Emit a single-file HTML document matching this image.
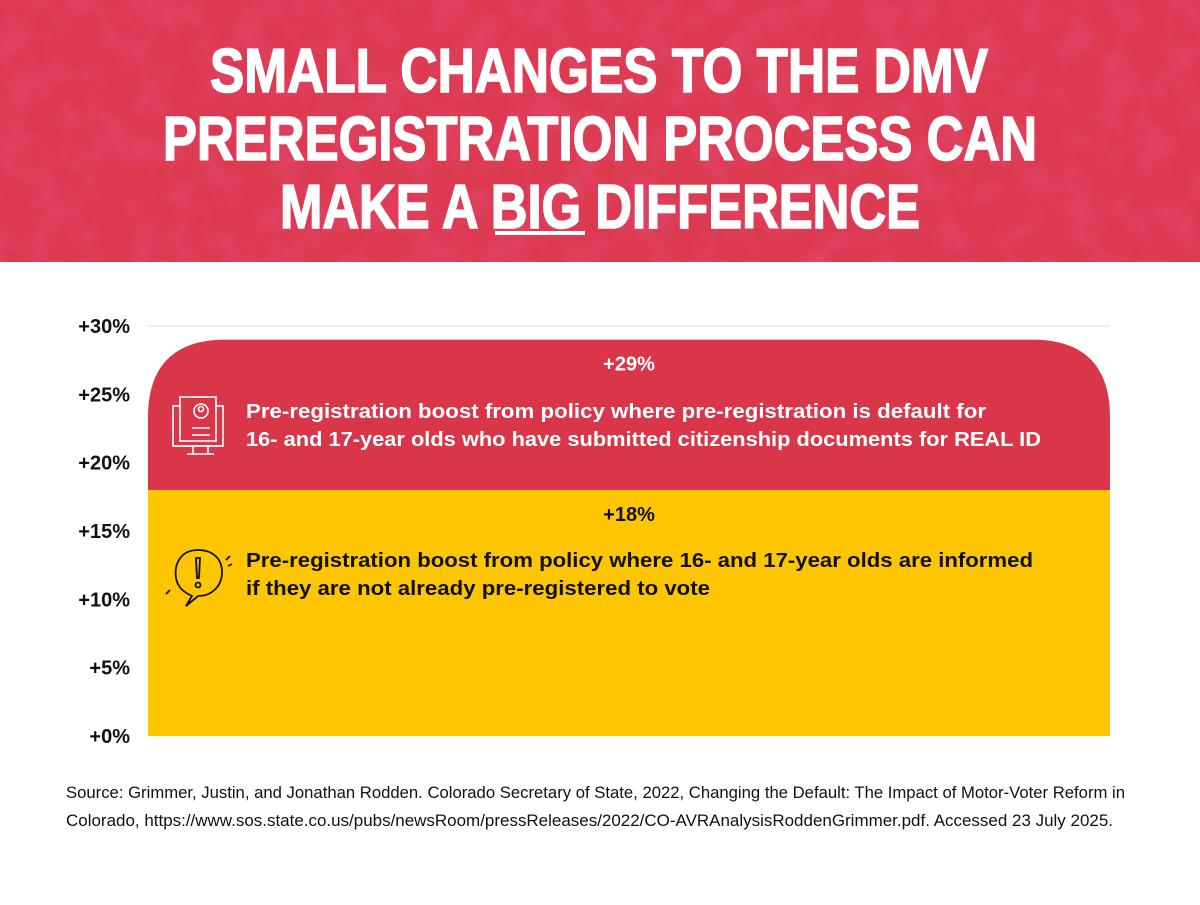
<!DOCTYPE html>
<html><head><meta charset="utf-8"><style>
body{margin:0;width:1200px;height:905px;background:#fff;overflow:hidden;font-family:"Liberation Sans",sans-serif}
svg{display:block}
</style></head><body>
<svg width="1200" height="905" viewBox="0 0 1200 905">
<defs>
<filter id="grain" x="0" y="0" width="100%" height="100%">
<feTurbulence type="fractalNoise" baseFrequency="0.03" numOctaves="4" seed="3" result="n"/>
<feColorMatrix type="matrix" values="0 0 0 0 0.78  0 0 0 0 0.08  0 0 0 0 0.2  0 0 0 1.4 -0.55" in="n" result="c"/>
<feComposite in="c" in2="SourceGraphic" operator="in"/>
</filter>
</defs>
<g>
<rect x="0" y="0" width="1200" height="262" fill="#dc3a50"/>
<rect x="0" y="0" width="1200" height="262" fill="#dc3a50" filter="url(#grain)" opacity="0.7"/>
<g font-family="'Liberation Sans Narrow','Liberation Sans',sans-serif" font-weight="bold" font-size="62" fill="#fff" stroke="#fff" stroke-width="1.6">
<text x="210" y="92" textLength="778" lengthAdjust="spacingAndGlyphs">SMALL CHANGES TO THE DMV</text>
<text x="163" y="160" textLength="874" lengthAdjust="spacingAndGlyphs">PREREGISTRATION PROCESS CAN</text>
<text x="280" y="228" textLength="640" lengthAdjust="spacingAndGlyphs">MAKE A BIG DIFFERENCE</text>
<rect x="495" y="231" width="90" height="4" fill="#fff" stroke="none"/>
</g>
</g>
<g id="plot"></g>
<g font-family="'Liberation Sans Narrow','Liberation Sans',sans-serif" font-size="17" fill="#111">
<text x="66" y="798" textLength="1059" lengthAdjust="spacingAndGlyphs">Source: Grimmer, Justin, and Jonathan Rodden. Colorado Secretary of State, 2022, Changing the Default: The Impact of Motor-Voter Reform in</text>
<text x="66" y="826" textLength="1047" lengthAdjust="spacingAndGlyphs">Colorado, https://www.sos.state.co.us/pubs/newsRoom/pressReleases/2022/CO-AVRAnalysisRoddenGrimmer.pdf. Accessed 23 July 2025.</text>
</g>
</svg>
<script>
const tickValues=[0,5,10,15,20,25,30];
const tickLabels=["+0%","+5%","+10%","+15%","+20%","+25%","+30%"];
const segStarts=[0,18];
const segEnds=[18,29];
const segLabels=["+18%","+29%"];
const segColors=["#fec600","#da3649"];
const y0=736,y1=326,xL=148,xR=1110;
const ys=v=>y0-(v/30)*(y0-y1);
const NS="http://www.w3.org/2000/svg";
const g=document.getElementById('plot');
function mk(t,a){const e=document.createElementNS(NS,t);for(const k in a)e.setAttribute(k,a[k]);g.appendChild(e);return e;}
const grid=mk('line',{x1:xL,x2:xR,y1:ys(30),y2:ys(30),stroke:'#ddd','stroke-width':1});


tickValues.forEach((v,i)=>{
 const t=mk('text',{x:130,y:ys(v)+7,'text-anchor':'end','font-size':20,'font-weight':'bold',fill:'#111'});
 t.textContent=tickLabels[i];
 
 
});
{const a=ys(segStarts[0]),b=ys(segEnds[0]);
 const r=mk('rect',{x:xL,y:b,width:xR-xL,height:a-b,fill:segColors[0]});
 
 }
{const a=ys(segStarts[1]),b=ys(segEnds[1]),R=78;
 const d=`M${xL},${a} L${xL},${b+R} Q${xL},${b} ${xL+R},${b} L${xR-R},${b} Q${xR},${b} ${xR},${b+R} L${xR},${a} Z`;
 const p=mk('path',{d:d,fill:segColors[1]});
 
 }
const cx=(xL+xR)/2;
[0,1].forEach(i=>{
 const t=mk('text',{x:cx,y:ys(segEnds[i])+31,'text-anchor':'middle','font-size':20,'font-weight':'bold',fill:i?'#fff':'#111'});
 t.textContent=segLabels[i];
 
 
});
function para(lines,y,fill,lens){lines.forEach((s,i)=>{const t=mk('text',{x:246,y:y+i*28,'font-size':20,'font-weight':'bold',fill:fill,textLength:lens[i],lengthAdjust:'spacingAndGlyphs'});t.textContent=s;
 
 });}
para(["Pre-registration boost from policy where pre-registration is default for","16- and 17-year olds who have submitted citizenship documents for REAL ID"],418,'#fff',[740,795]);
para(["Pre-registration boost from policy where 16- and 17-year olds are informed","if they are not already pre-registered to vote"],567,'#111',[787,464]);
const ic=mk('g',{stroke:'#fff','stroke-width':1.6,fill:'none'});


ic.innerHTML='<rect x="173" y="406" width="50" height="40"/><rect x="180" y="397" width="36" height="44" fill="#da3649"/><circle cx="201" cy="411" r="7"/><circle cx="201" cy="409" r="2.5"/><line x1="192" y1="428" x2="210" y2="428"/><line x1="192" y1="435" x2="210" y2="435"/><line x1="173" y1="446" x2="223" y2="446"/><line x1="193" y1="447" x2="193" y2="453"/><line x1="208" y1="447" x2="208" y2="453"/><line x1="187" y1="454" x2="214" y2="454"/>';
const ic2=mk('g',{stroke:'#111','stroke-width':1.8,fill:'none'});


ic2.innerHTML='<path d="M198,550 C180,550 174,565 176,578 C178,590 188,594 192,596 L186,606 L198,596 C212,596 222,586 222,572 C222,558 212,550 198,550 Z"/><path d="M196,558 L200,558 L199,578 L197,578 Z"/><circle cx="198" cy="585" r="2.5"/><path d="M226,560 L230,556 M228,566 L232,564 M170,590 L166,594"/>';
</script>
</body></html>
